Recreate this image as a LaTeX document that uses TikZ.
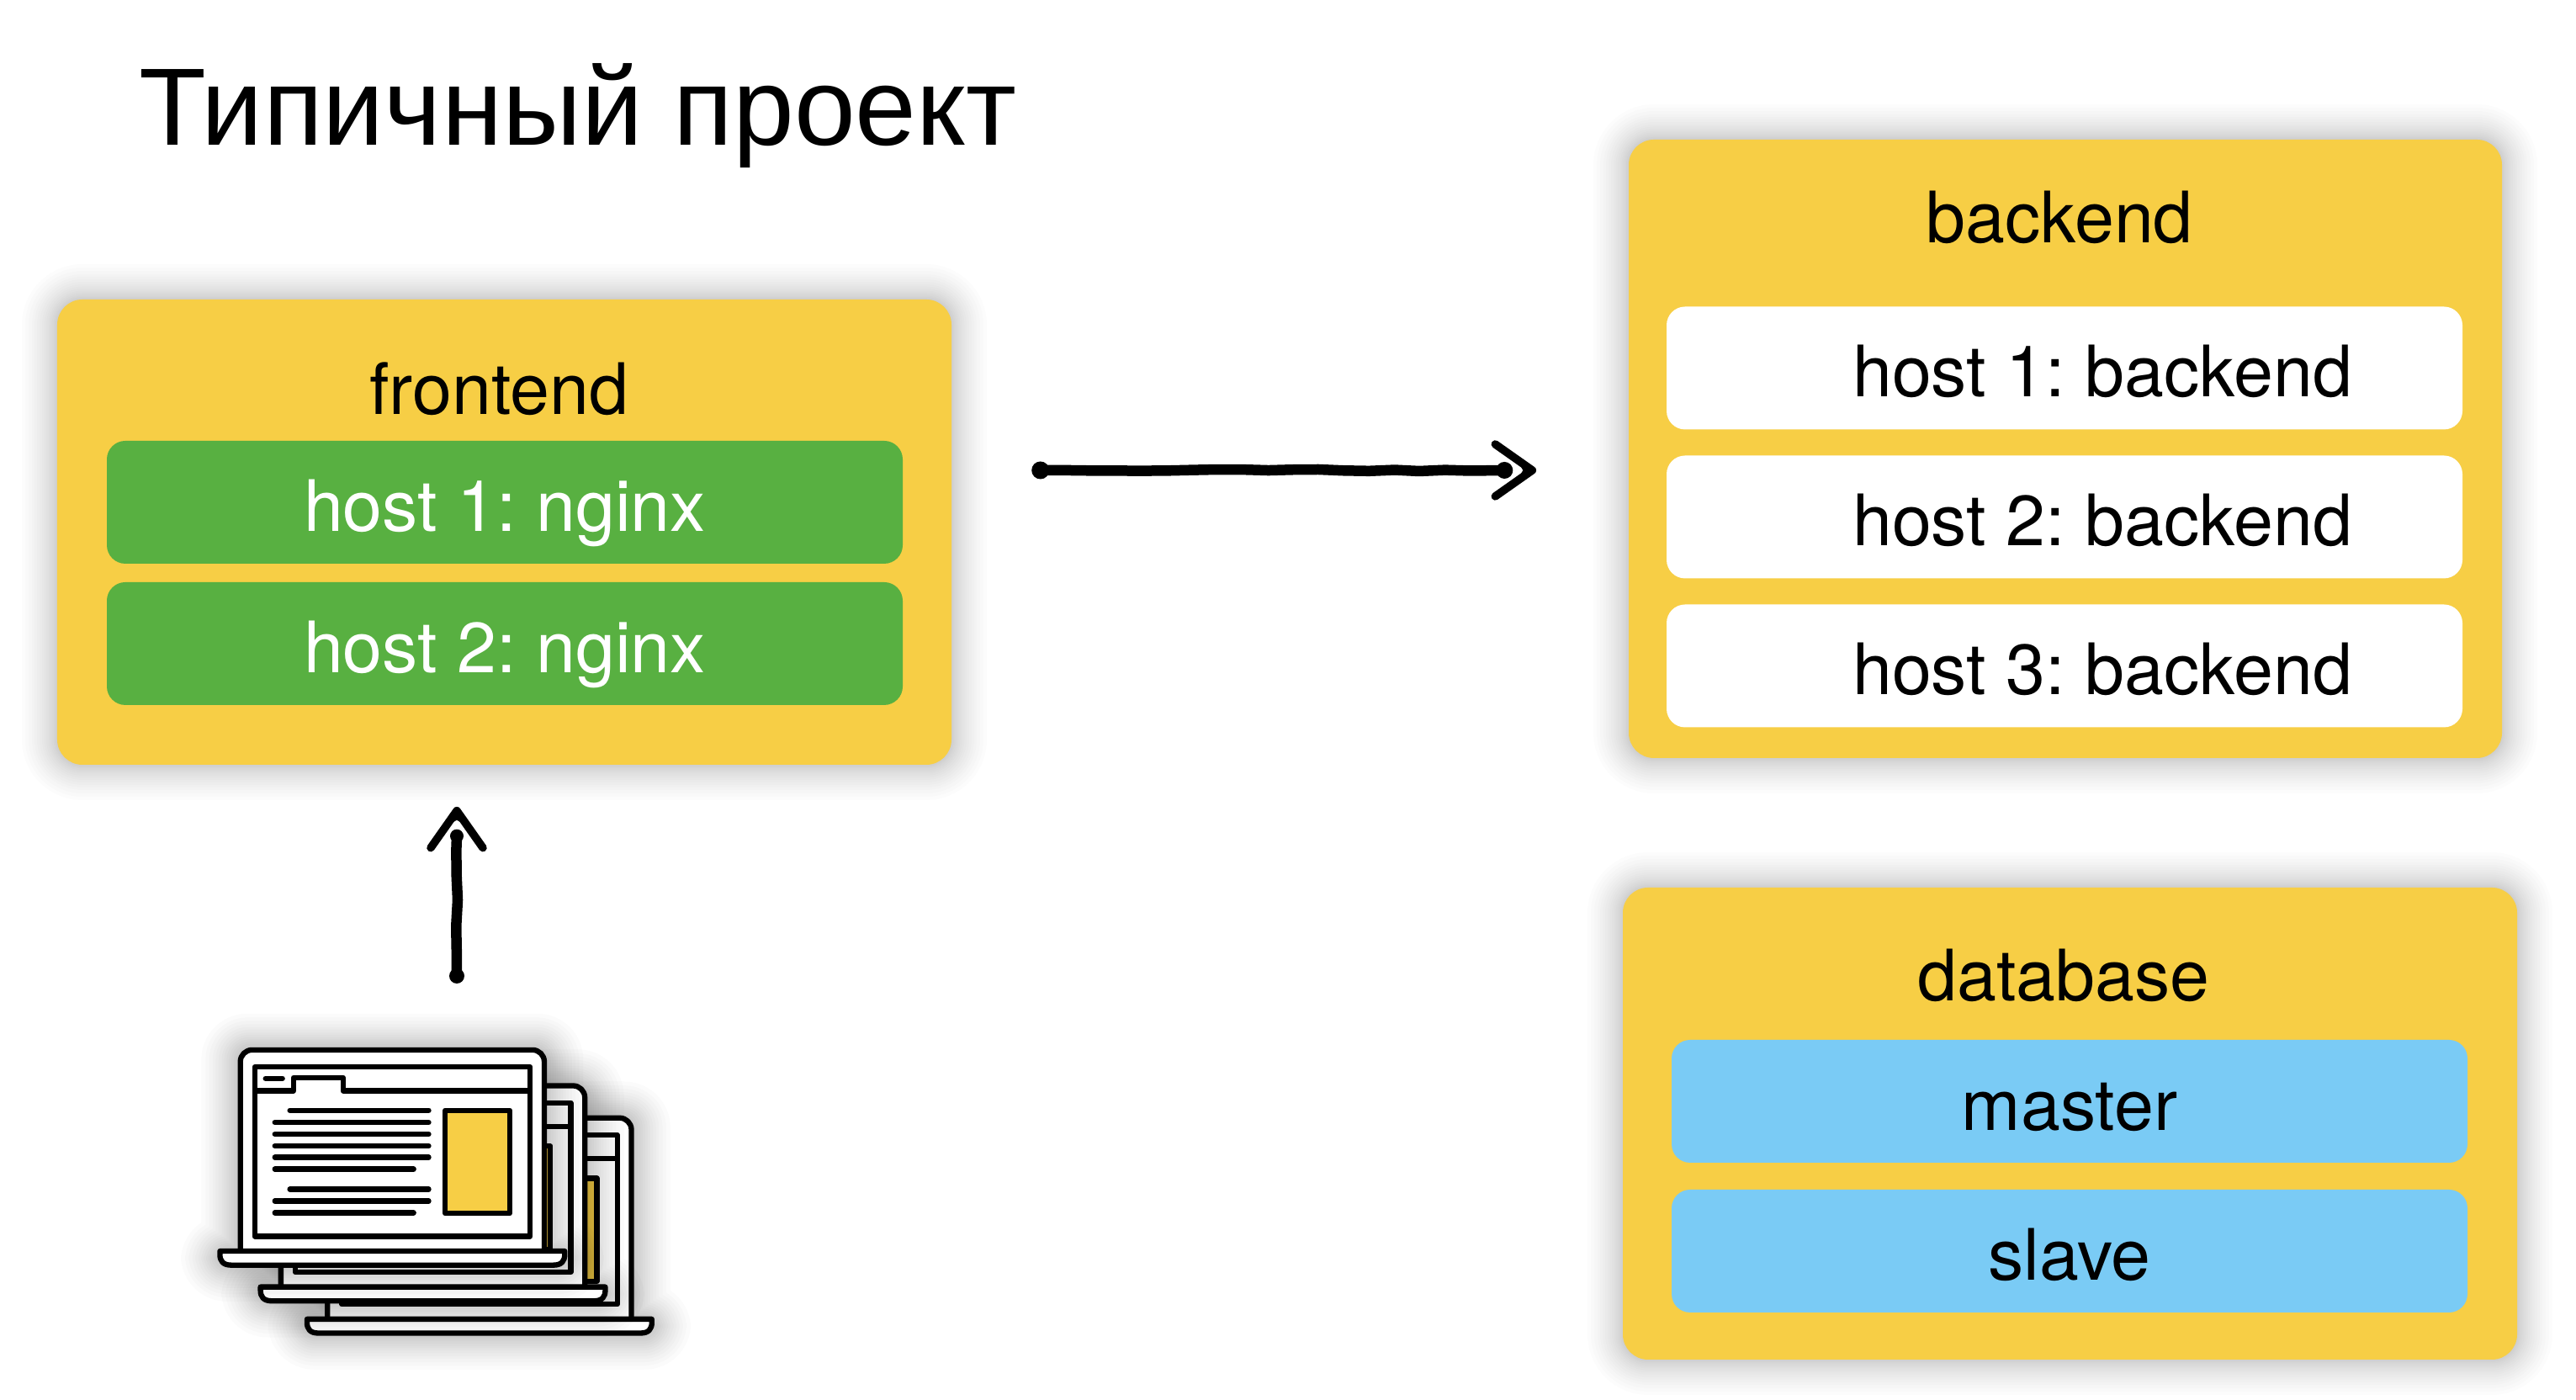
\documentclass[tikz,border=0pt]{standalone}
\usepackage{fontspec}
\setmainfont{TeX Gyre Heros}
\newfontfamily\titlefont{Liberation Sans}
\usetikzlibrary{calc,decorations.pathmorphing}
\definecolor{panelyellow}{HTML}{F7CE45}
\definecolor{hostgreen}{HTML}{58B041}
\definecolor{dbblue}{HTML}{7ACBF5}
\def\softshadow(#1,#2)(#3,#4){\foreach \s in {.42,.38,.34,.30,.27,.24,.21,.18,.155,.13,.105,.085,.065,.045,.03,.015,0}{\fill[black,opacity=.012,rounded corners={(.3+\s)*1cm}] ({#1-\s},{#2-\s}) rectangle ({#3+\s},{#4+\s});}}
\def\laptop(#1,#2){
	\begin{scope}[shift={(2.4,4.44)},x=.00357cm,y=-.00333cm,shift={(#1,#2)}]
		\foreach \s in {130,116,104,92,82,72,62,54,46,38,30,22,14,8,0}{
			\fill[black,opacity=.015,rounded corners={(.12+\s*.0033)*1cm}] ({128-\s},{84-\s}) rectangle ({1140+\s},{805+\s}) ({60-\s},{803-\s}) rectangle ({1208+\s},{853+\s});
		}
		\draw[laptopline,fill=white,rounded corners=.14cm] (128,805) -- (128,84) -- (1140,84) -- (1140,805);
		\draw[laptopline,fill=white] (176,145) rectangle (1093,750);
		\draw[laptopline] (176,230) -- (305,230) -- (305,183) -- (470,183) -- (470,230) -- (1093,230);
		\draw[laptopline,line cap=round] (212,186) -- (268,186);
		\foreach \x/\e/\y in {293/755/300,243/755/343,243/755/385,243/755/427,243/755/468,243/705/510,293/755/582,243/755/624,243/705/666}{
			\draw[laptopline,line cap=round] (\x,\y) -- (\e,\y);
		}
		\draw[laptopline,fill=panelyellow] (810,300) rectangle (1025,668);
		\draw[laptopline,fill=white] (60,803) -- (1208,803) -- (1208,815) .. controls (1208,838) and (1198,853) .. (1170,853) -- (98,853) .. controls (70,853) and (60,838) .. (60,815) -- cycle;
	\end{scope}
}
\tikzset{
	panel/.style={fill=panelyellow,rounded corners=.3cm,inner sep=0pt},
	hostbox/.style={rounded corners=.22cm,inner sep=0pt,minimum width=9.46cm,minimum height=1.46cm,font=\fontsize{24}{26}\selectfont,text height=.72cm,text depth=.03cm},
	panellabel/.style={anchor=base,inner sep=0pt,font=\fontsize{24}{26}\selectfont},
	laptopline/.style={line width=1.8pt,line join=round},
	sketchline/.style={line width=.125cm,line cap=round,decorate,decoration={random steps,segment length=.3cm,amplitude=.012cm}},
	sketchhead/.pic={
		\draw[line width=.095cm,line cap=round,line join=round] (-.44,.31) -- (0,0) -- (-.44,-.31);
		\fill (.03,0) -- (-.22,.19) -- (-.11,0) -- (-.22,-.19) -- cycle;
	}
}
\pgfmathsetseed{11}
\frenchspacing
\begin{document}
\begin{tikzpicture}
	%%%%% START %%%%%
	\useasboundingbox (0,0) rectangle (30.62,16.64);
	\fill[white] (0,0) rectangle (30.62,16.64);

	\node[anchor=base west,inner sep=0pt,font=\titlefont\fontsize{37.2}{40}\selectfont] (title) at (1.65,14.91) {Типичный проект};

	% frontend
	\softshadow(.68,7.55)(11.31,13.08)
	\node[panel,minimum width=10.63cm,minimum height=5.53cm] (frontend) at (5.995,10.315) {};
	\node[panellabel] (frontendlabel) at (5.93,11.71) {frontend};
	\node[hostbox,fill=hostgreen,text=white] (nginxa) at (6,10.67) {host 1: nginx};
	\node[hostbox,fill=hostgreen,text=white] (nginxb) at (6,8.99) {host 2: nginx};

	% backend
	\softshadow(19.36,7.63)(29.74,14.98)
	\node[panel,minimum width=10.38cm,minimum height=7.35cm] (backend) at (24.55,11.305) {};
	\node[panellabel] (backendlabel) at (24.48,13.75) {backend};
	\node[hostbox,fill=white] (backenda) at (24.54,12.265) {\hspace*{.9cm}host 1: backend};
	\node[hostbox,fill=white] (backendb) at (24.54,10.495) {\hspace*{.9cm}host 2: backend};
	\node[hostbox,fill=white] (backendc) at (24.54,8.725) {\hspace*{.9cm}host 3: backend};

	% database
	\softshadow(19.29,.48)(29.92,6.09)
	\node[panel,minimum width=10.63cm,minimum height=5.61cm] (database) at (24.605,3.285) {};
	\node[panellabel] (databaselabel) at (24.53,4.74) {database};
	\node[hostbox,fill=dbblue] (master) at (24.6,3.55) {master};
	\node[hostbox,fill=dbblue] (slave) at (24.6,1.77) {slave};

	% laptops, back to front
	\laptop(290,243)
	\laptop(135,128)
	\laptop(0,0)

	% arrows
	\coordinate (frontout) at ([shift={(1.05,.735)}]frontend.east);
	\coordinate (backin) at ([shift={(-1.14,-.255)}]backend.west);
	\draw[sketchline] (frontout) -- ([xshift=-.33cm]backin);
	\fill (frontout) circle (.105);
	\fill ([xshift=-.33cm]backin) circle (.1);
	\pic at (backin) {sketchhead};

	\coordinate (clients) at (5.43,5.04);
	\coordinate (frontin) at ([shift={(-.565,-.54)}]frontend.south);
	\draw[sketchline] (clients) -- ([yshift=-.3cm]frontin);
	\fill (clients) circle (.09);
	\fill ([yshift=-.3cm]frontin) circle (.08);
	\pic[rotate=90] at (frontin) {sketchhead};
	%%%%% END %%%%%
\end{tikzpicture}
\end{document}
